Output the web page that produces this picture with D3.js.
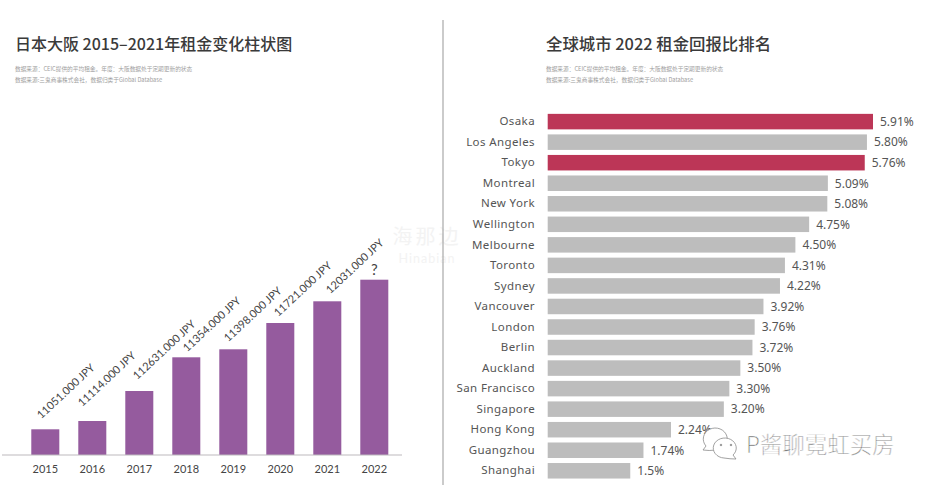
<!DOCTYPE html>
<html>
<head>
<meta charset="utf-8">
<script src="https://cdnjs.cloudflare.com/ajax/libs/d3/7.8.5/d3.min.js"></script>
<style>
  html, body { margin: 0; padding: 0; background: #fff; }
  svg { display: block; }
</style>
</head>
<body>
<div id="chart"></div>
<script>
// left chart
var years = ["2015", "2016", "2017", "2018", "2019", "2020", "2021", "2022"];
// bars in the picture do not follow the printed rents, so these are read off by height
var barHeights = [25.7, 34, 64, 97.7, 105.7, 132, 153.7, 175.3];
var rentLabels = ["11051.000 JPY", "11114.000 JPY", "112631.000 JPY", "11354.000 JPY",
  "11398.000 JPY", "11721.000 JPY", "12031.000 JPY", "?"];

// right chart
var cities = ["Osaka", "Los Angeles", "Tokyo", "Montreal", "New York", "Wellington", "Melbourne",
  "Toronto", "Sydney", "Vancouver", "London", "Berlin", "Auckland", "San Francisco", "Singapore",
  "Hong Kong", "Guangzhou", "Shanghai"];
var yields = [5.91, 5.80, 5.76, 5.09, 5.08, 4.75, 4.50, 4.31, 4.22, 3.92, 3.76, 3.72, 3.50, 3.30, 3.20, 2.24, 1.74, 1.5];
var yieldLabels = ["5.91%", "5.80%", "5.76%", "5.09%", "5.08%", "4.75%", "4.50%", "4.31%", "4.22%",
  "3.92%", "3.76%", "3.72%", "3.50%", "3.30%", "3.20%", "2.24%", "1.74%", "1.5%"];
var highlighted = ["Osaka", "Tokyo"];

var width = 926, height = 485;
var cjk = "'Noto Sans CJK SC', 'Noto Sans', sans-serif";

var svg = d3.select("#chart").append("svg").attr("width", width).attr("height", height);

// faint watermark, sits under everything
svg.append("text").attr("x", 427).attr("y", 244).attr("text-anchor", "middle").attr("fill", "#f3f3f3")
  .attr("font-family", cjk).attr("font-size", 20).attr("letter-spacing", 3).text("海那边");
svg.append("text").attr("x", 427).attr("y", 263).attr("text-anchor", "middle").attr("fill", "#f3f3f3")
  .attr("font-family", "Lato, sans-serif").attr("font-size", 12.5).attr("letter-spacing", 1).text("Hinabian");

// divider
svg.append("line").attr("x1", 443).attr("x2", 443).attr("y1", 20).attr("y2", 485)
  .attr("stroke", "#a8a8a8").attr("stroke-width", 1.2);

// titles
function header(x, title, size) {
  svg.append("text").attr("x", x).attr("y", 50).attr("fill", "#3a3a3a")
    .attr("font-family", cjk).attr("font-size", size).attr("font-weight", 500).text(title);
  svg.append("text").attr("x", x).attr("y", 70.5).attr("fill", "#a0a0a0")
    .attr("font-family", cjk).attr("font-size", 5.7).text("数据来源：CEIC提供的平均租金。年度：大阪数据处于定期更新的状态");
  svg.append("text").attr("x", x).attr("y", 81.5).attr("fill", "#a0a0a0")
    .attr("font-family", cjk).attr("font-size", 5.7).text("数据来源:三鬼商事株式会社，数据归类于Global Database");
}
header(15, "日本大阪 2015–2021年租金变化柱状图", 16);
header(546, "全球城市 2022 租金回报比排名", 16.4);

// bar chart
var x = d3.scaleBand().domain(years).range([21.8, 397.8]).paddingInner(0.404).paddingOuter(0.202);
var y = d3.scaleLinear().domain([0, 175.3]).range([455, 279.7]);

svg.selectAll(".bar").data(years).enter().append("rect")
  .attr("class", "bar")
  .attr("x", function(d) { return x(d); })
  .attr("y", function(d, i) { return y(barHeights[i]); })
  .attr("width", x.bandwidth())
  .attr("height", function(d, i) { return y(0) - y(barHeights[i]); })
  .attr("fill", "#955b9e");

var axisx = d3.axisBottom(x).tickSize(0).tickPadding(10);
var gx = svg.append("g").attr("transform", "translate(0,455)").call(axisx);
gx.select(".domain").remove();
gx.append("line").attr("x1", 2).attr("x2", 402).attr("stroke", "#bdbabd").attr("stroke-width", 1.2);
gx.selectAll("text").attr("font-family", "Lato, sans-serif").attr("font-size", 11).attr("fill", "#444");

// labels were hand placed in the original, each one sits a bit differently over its bar
var nudgeX = [-4, -10, -2, 1, -5, -2, 3];
var nudgeY = [-10, -14, -11, -5, -7, -6, -7];

svg.selectAll(".rent").data(rentLabels).enter().append("text")
  .attr("class", "rent")
  .attr("transform", function(d, i) {
    var cx = x(years[i]) + x.bandwidth() / 2;
    if (d === "?") return "translate(" + cx + "," + (y(barHeights[i]) - 5) + ")";
    return "translate(" + (cx + nudgeX[i]) + "," + (y(barHeights[i]) + nudgeY[i]) + ") rotate(-43)";
  })
  .attr("text-anchor", function(d) { return d === "?" ? "middle" : "start"; })
  .attr("font-family", "Lato, sans-serif")
  .attr("font-size", function(d) { return d === "?" ? 15 : 11; })
  .attr("fill", "#444")
  .text(function(d) { return d; });

// ranking chart
var xr = d3.scaleLinear().domain([0, 5.91]).range([547.7, 873]);
var yr = d3.scaleBand().domain(cities).range([111.4, 481]).paddingInner(0.245).paddingOuter(0.12);

svg.selectAll(".rank").data(cities).enter().append("rect")
  .attr("class", "rank")
  .attr("x", xr(0))
  .attr("y", function(d) { return yr(d); })
  .attr("width", function(d, i) { return xr(yields[i]) - xr(0); })
  .attr("height", yr.bandwidth())
  .attr("fill", function(d) { return highlighted.indexOf(d) >= 0 ? "#bc3657" : "#bdbdbd"; });

var axisy = d3.axisLeft(yr).tickSize(0).tickPadding(12.7);
var gy = svg.append("g").attr("transform", "translate(547.7,0)").call(axisy);
gy.select(".domain").remove();
gy.selectAll("text").attr("font-family", "'Noto Sans', sans-serif").attr("font-size", 11.5)
  .attr("letter-spacing", 0.4).attr("fill", "#555");

svg.selectAll(".pct").data(yieldLabels).enter().append("text")
  .attr("class", "pct")
  .attr("x", function(d, i) { return xr(yields[i]) + 7; })
  .attr("y", function(d, i) { return yr(cities[i]) + yr.bandwidth() / 2; })
  .attr("dy", "0.36em")
  .attr("font-family", "'Noto Sans', sans-serif")
  .attr("font-size", 12)
  .attr("fill", "#555")
  .text(function(d) { return d; });

// wechat account watermark
var bubbles = svg.append("g").attr("fill", "#fff").attr("stroke", "#8a8a8a").attr("stroke-width", 0.8);
bubbles.append("path").attr("d", "M703 450 L706 446 A12 11 0 1 1 716 450 Q709 451 703 450Z");
bubbles.append("path").attr("d", "M736 459 L733 455 A11.5 10 0 1 0 724 458 Q730 459 736 459Z");
bubbles.append("circle").attr("cx", 721).attr("cy", 445).attr("r", 0.8).attr("fill", "#888");
bubbles.append("circle").attr("cx", 731).attr("cy", 445).attr("r", 0.8).attr("fill", "#888");

svg.append("text").attr("x", 746).attr("y", 453).attr("font-family", cjk).attr("font-size", 22.5)
  .attr("fill", "#666").attr("stroke", "#fff").attr("stroke-width", 0.5).attr("font-weight", 300)
  .text("P酱聊霓虹买房");
</script>
</body>
</html>
